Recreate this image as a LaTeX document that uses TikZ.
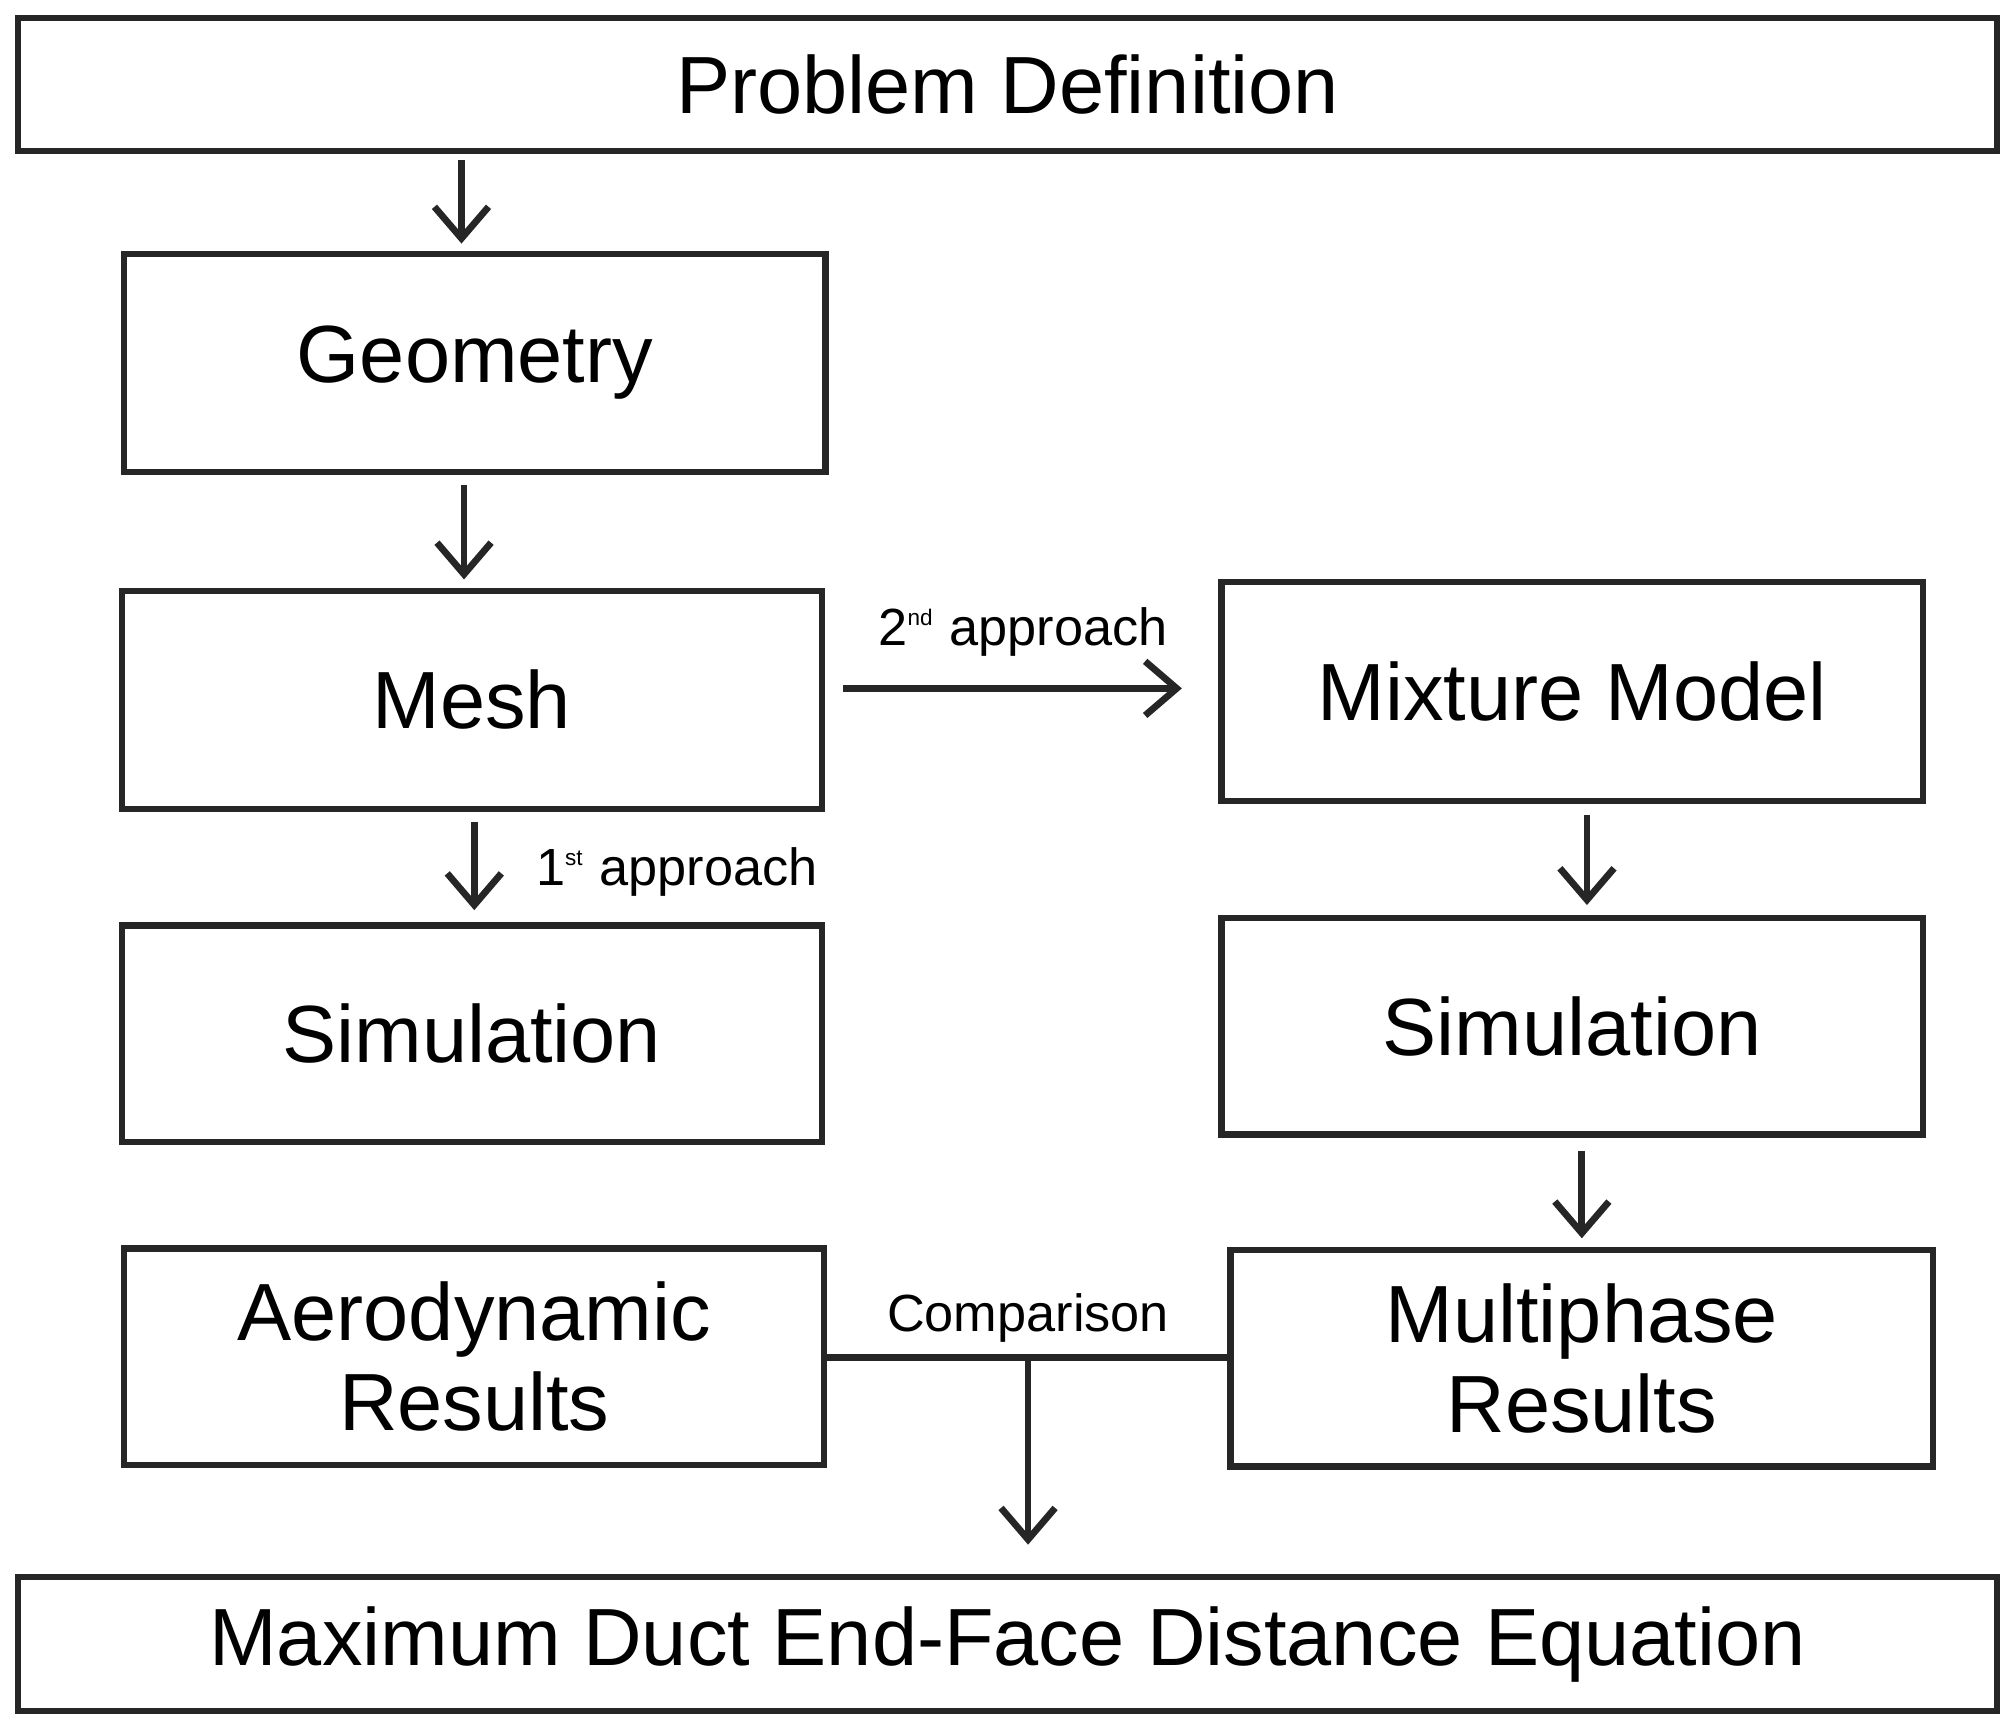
\documentclass[tikz,border=0pt]{standalone}
\usepackage{fontspec}
\setmainfont{Liberation Sans}
\usetikzlibrary{arrows.meta}
\begin{document}
\begin{tikzpicture}[x=0.01cm,y=-0.01cm,
  box/.style={draw=black!85,line width=1.4pt,inner sep=0pt,font=\fontsize{18}{20}\selectfont,align=center},
  arr/.style={-{Straight Barb[length=7pt,width=12pt]},line width=1.5pt,draw=black!85},
  lab/.style={font=\fontsize{11.6}{14}\selectfont}]
\useasboundingbox (0,0) rectangle (1568,1350);
\newcommand{\bx}[6]{\node[box,minimum width=#4*0.01cm-#2*0.01cm,minimum height=#5*0.01cm-#3*0.01cm] (#1) at ({(#2+#4)/2},{(#3+#5)/2}) {#6};}
\bx{pd}{14}{14}{1558}{118}{Problem Definition}
\bx{geo}{97}{198}{644}{368}{Geometry}
\bx{mesh}{95}{461}{641}{631}{Mesh}
\bx{mix}{953}{454}{1500}{625}{Mixture Model}
\bx{siml}{95}{722}{641}{891}{Simulation}
\bx{simr}{953}{716}{1500}{885}{Simulation}
\bx{aero}{97}{974}{643}{1143}{Aerodynamic\\Results}
\bx{multi}{960}{975}{1508}{1144}{Multiphase\\Results}
\bx{eq}{14}{1230}{1558}{1335}{Maximum Duct End-Face Distance Equation}
\coordinate (a1) at (360,125); \coordinate (a2) at (360,190);
\draw[arr] (a1) -- (a2);
\coordinate (b1) at (362,378); \coordinate (b2) at (362,452);
\draw[arr] (b1) -- (b2);
\coordinate (c1) at (370,641); \coordinate (c2) at (370,710);
\draw[arr] (c1) -- (c2);
\node[lab] (l1) at (528,680) {1\textsuperscript{\tiny st} approach};
\coordinate (d1) at (658,537); \coordinate (d2) at (922,537);
\draw[arr] (d1) -- (d2);
\node[lab] (l2) at (798,493) {2\textsuperscript{\tiny nd} approach};
\coordinate (e1) at (1238,636); \coordinate (e2) at (1238,706);
\draw[arr] (e1) -- (e2);
\coordinate (f1) at (1234,898); \coordinate (f2) at (1234,966);
\draw[arr] (f1) -- (f2);
\draw[line width=1.4pt,draw=black!85] (aero.east |- 0,1059) -- (multi.west |- 0,1059);
\coordinate (g1) at (802,1059); \coordinate (g2) at (802,1205);
\draw[arr] (g1) -- (g2);
\node[lab] (l3) at (802,1028) {Comparison};
\end{tikzpicture}
\end{document}
